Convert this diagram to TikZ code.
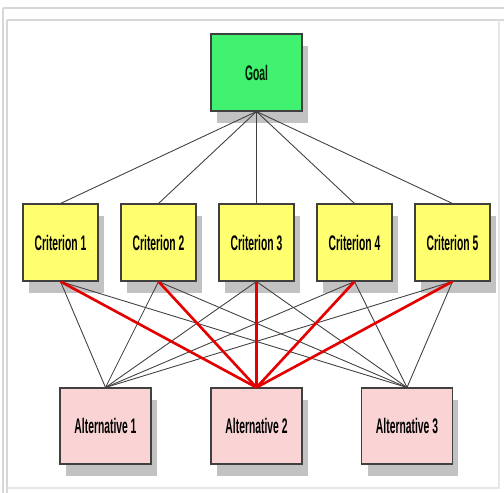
\documentclass[tikz,border=0pt]{standalone}
\usepackage{fontspec}
\newfontfamily\boxfont{Liberation Sans}[FakeStretch=0.49]
\usetikzlibrary{shadows}
\definecolor{goalgreen}{RGB}{64,242,112}
\definecolor{crityellow}{RGB}{255,255,112}
\definecolor{altpink}{RGB}{250,212,212}
\definecolor{framegray}{RGB}{215,215,215}
\tikzset{
  box/.style={draw=black!75, line width=0.6pt, inner sep=0pt,
    font=\boxfont\bfseries\fontsize{12}{14}\selectfont,
    drop shadow={shadow xshift=0.12cm, shadow yshift=-0.24cm, fill=black!24, opacity=1}},
  goalbox/.style={box, fill=goalgreen, text=black!70!green!40!black, minimum width=1.82cm, minimum height=1.54cm},
  critbox/.style={box, fill=crityellow, minimum width=1.5cm, minimum height=1.54cm},
  altbox/.style={box, fill=altpink, minimum width=1.82cm, minimum height=1.52cm},
  link/.style={draw=black!75, line width=0.5pt},
  redlink/.style={draw=red!90!black, line width=1.5pt}
}
\begin{document}
\begin{tikzpicture}[x=0.02cm, y=-0.02cm]
    \useasboundingbox (0,0) rectangle (504,493);
    % frame
    \draw[framegray, line width=1.2pt] (3,8) -- (504,8);
    \draw[framegray, line width=1.2pt] (7,20) -- (504,20);
    \draw[framegray, line width=1pt] (3,8) -- (3,493);
    \draw[framegray, line width=1pt] (7,20) -- (7,493);
    \draw[framegray!60, line width=0.8pt] (7,488) -- (499,488) -- (499,20);

    % goal level
    \node[goalbox] (goal) at (256.5,72.5) {Goal};

    % criteria level
    \node[critbox] (crit1) at (60.5,242.5) {Criterion 1};
    \node[critbox] (crit2) at (158.5,242.5) {Criterion 2};
    \node[critbox] (crit3) at (256.5,242.5) {Criterion 3};
    \node[critbox] (crit4) at (354.5,242.5) {Criterion 4};
    \node[critbox] (crit5) at (452.5,242.5) {Criterion 5};

    % alternatives level
    \node[altbox] (alt1) at (105.5,426) {Alternative 1};
    \node[altbox] (alt2) at (256.5,426) {Alternative 2};
    \node[altbox] (alt3) at (407,426) {Alternative 3};

    % goal to criteria
    \foreach \c in {1,...,5}
        \draw[link] (goal.south) -- (crit\c.north);

    % criteria to alternatives
    \foreach \c in {1,...,5} {
        \draw[link] (crit\c.south) -- (alt1.north);
        \draw[link] (crit\c.south) -- (alt3.north);
    }
    \foreach \c in {1,...,5}
        \draw[redlink] (crit\c.south) -- (alt2.north);
\end{tikzpicture}
\end{document}
